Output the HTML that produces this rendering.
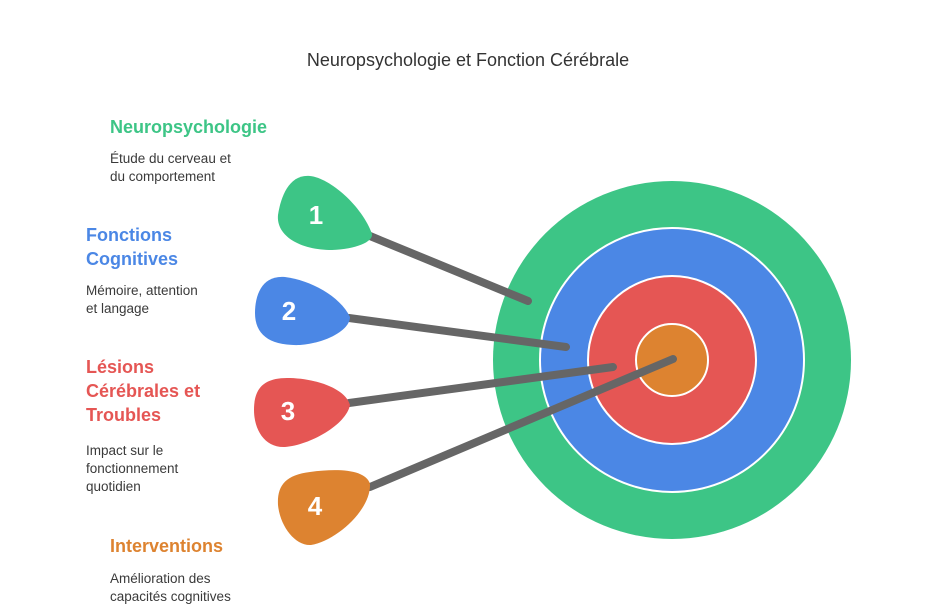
<!DOCTYPE html>
<html><head><meta charset="utf-8"><style>
html,body{margin:0;padding:0;background:#fff;}
svg{display:block;font-family:"Liberation Sans",Arial,sans-serif;}
.h{font-weight:bold;font-size:18px;}
.d{font-size:13.5px;fill:#3a3a3a;}
.n{font-weight:bold;font-size:26px;fill:#fff;text-anchor:middle;}
</style></head><body>
<svg width="936" height="613" viewBox="0 0 936 613">
<text x="468" y="66" text-anchor="middle" font-size="18" fill="#333">Neuropsychologie et Fonction Cérébrale</text>

<circle cx="672" cy="360" r="179" fill="#3dc586"/>
<circle cx="672" cy="360" r="132" fill="#4b87e5" stroke="#fff" stroke-width="2"/>
<circle cx="672" cy="360" r="84" fill="#e55654" stroke="#fff" stroke-width="2"/>
<circle cx="672" cy="360" r="36" fill="#dd8330" stroke="#fff" stroke-width="2"/>

<g stroke="#666" stroke-width="8" stroke-linecap="round" fill="none">
<line x1="370" y1="236" x2="528" y2="301"/>
<line x1="349" y1="318" x2="566" y2="347"/>
<line x1="349" y1="403" x2="613" y2="367"/>
<line x1="370" y1="487" x2="673" y2="359"/>
</g>

<path d="M372,234 C362,206 330,178 310,176 C290,174 281,195 278,215 C276,236 300,250 332,250 C356,249 373,242 372,234Z" fill="#3dc586"/>
<path d="M350,317 C340,296 310,280 285,277 C262,275 255,295 255,313 C255,335 270,346 300,345 C326,343 350,330 350,317Z" fill="#4b87e5"/>
<path d="M350,405 C346,390 320,379 290,378 C262,377 254,390 254,410 C254,430 265,448 285,447 C310,445 346,425 350,405Z" fill="#e55654"/>
<path d="M370,484 C366,470 340,468 310,472 C285,475 277,486 278,505 C280,526 295,546 311,545 C336,541 371,510 370,484Z" fill="#dd8330"/>

<text class="n" x="316" y="224">1</text>
<text class="n" x="289" y="320">2</text>
<text class="n" x="288" y="420">3</text>
<text class="n" x="315" y="515">4</text>

<text class="h" x="110" y="133" fill="#3dc586">Neuropsychologie</text>
<text class="d" x="110" y="163">Étude du cerveau et</text>
<text class="d" x="110" y="181">du comportement</text>

<text class="h" x="86" y="241" fill="#4b87e5">Fonctions</text>
<text class="h" x="86" y="265" fill="#4b87e5">Cognitives</text>
<text class="d" x="86" y="295">Mémoire, attention</text>
<text class="d" x="86" y="313">et langage</text>

<text class="h" x="86" y="373" fill="#e55654">Lésions</text>
<text class="h" x="86" y="397" fill="#e55654">Cérébrales et</text>
<text class="h" x="86" y="421" fill="#e55654">Troubles</text>
<text class="d" x="86" y="455">Impact sur le</text>
<text class="d" x="86" y="473">fonctionnement</text>
<text class="d" x="86" y="491">quotidien</text>

<text class="h" x="110" y="552" fill="#dd8330">Interventions</text>
<text class="d" x="110" y="583">Amélioration des</text>
<text class="d" x="110" y="601">capacités cognitives</text>
</svg>
</body></html>
